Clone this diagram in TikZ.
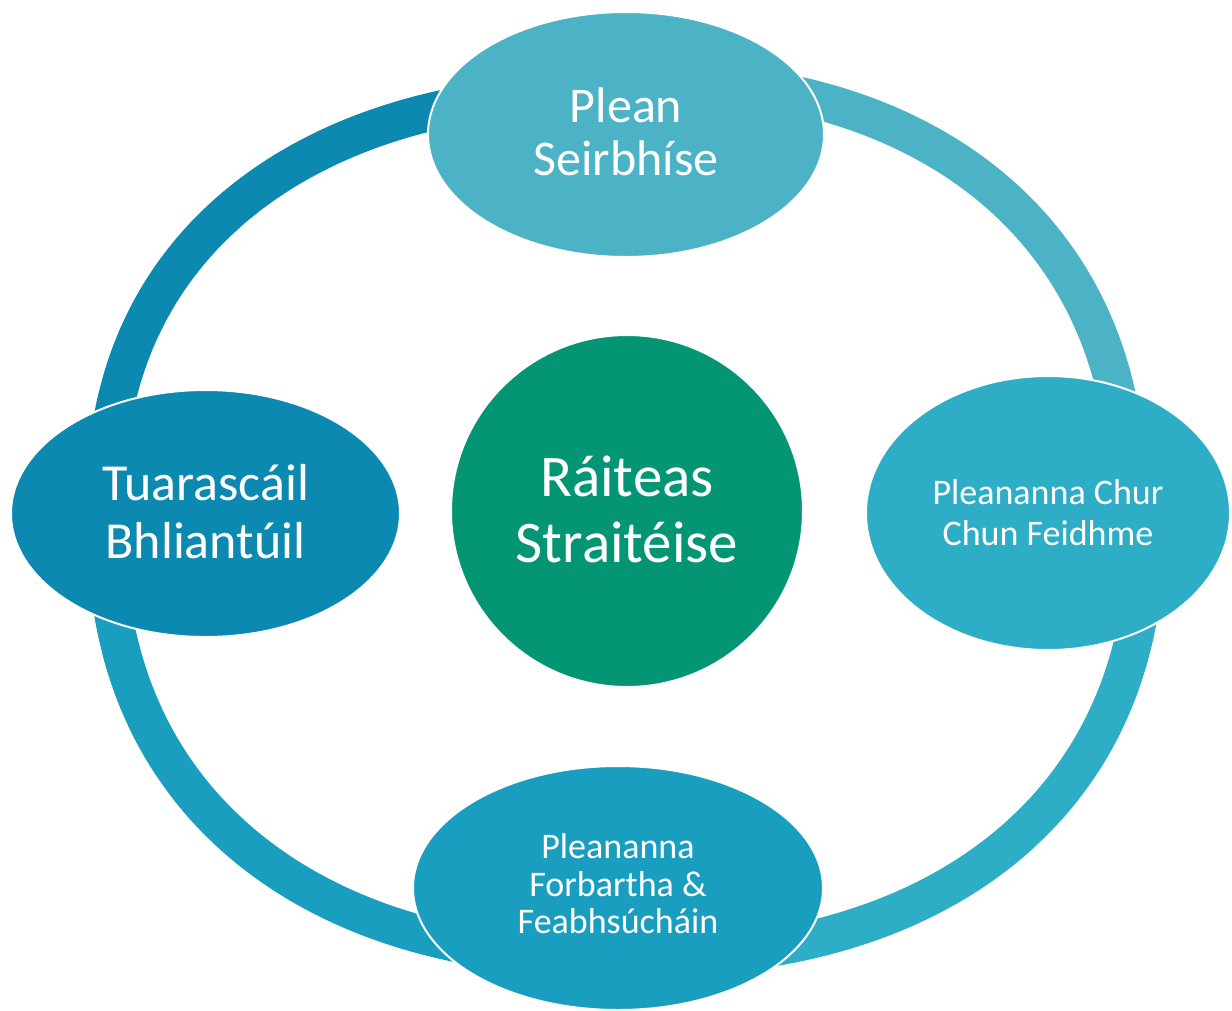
\documentclass[tikz,border=0pt]{standalone}
\usepackage{fontspec}
\setmainfont{Carlito}
\usetikzlibrary{shapes.geometric}
\definecolor{cLeft}{RGB}{11,137,176}
\definecolor{cTop}{RGB}{75,179,197}
\definecolor{cRight}{RGB}{46,173,199}
\definecolor{cBottom}{RGB}{26,158,192}
\definecolor{cCenter}{RGB}{4,149,116}
\begin{document}
\begin{tikzpicture}[x=1pt,y=-1pt,
  ring/.style={line width=38pt},
  bubble/.style={ellipse, draw=white, line width=2pt, inner sep=0pt},
  caption/.style={text=white, inner sep=0pt, align=center},
  ]
\useasboundingbox (0,0) rectangle (1232,1010);
% ring segments (drawn beneath the bubbles)
\draw[ring, cLeft] plot[domain=1:89, samples=120]
  ({626-521*pow(cos(\x),0.8696)}, {515-423*pow(sin(\x),0.8696)});
\draw[ring, cTop] plot[domain=1:89, samples=120]
  ({626+502*pow(cos(\x),0.8696)}, {515-436*pow(sin(\x),0.8696)});
\draw[ring, cRight] plot[domain=1:89, samples=120]
  ({626+520*pow(cos(\x),0.8696)}, {515+443*pow(sin(\x),0.8696)});
\draw[ring, cBottom] plot[domain=1:89, samples=120]
  ({626-520*pow(cos(\x),0.8696)}, {515+443*pow(sin(\x),0.8696)});
% bubbles
\node[bubble, fill=cTop, minimum width=396pt, minimum height=245pt] (plan) at (626,134.5) {};
\node[bubble, fill=cLeft, minimum width=389pt, minimum height=247pt] (tuar) at (205.5,513.5) {};
\node[bubble, fill=cRight, minimum width=364pt, minimum height=274pt] (chur) at (1048,513) {};
\node[bubble, fill=cBottom, minimum width=410pt, minimum height=244pt] (forb) at (618,888) {};
\node[bubble, circle, fill=cCenter, minimum size=352pt] (rait) at (627,511) {};
% captions
\node[caption, font=\fontsize{50}{53}\selectfont] (planT) at ([yshift=3pt]plan.center) {Plean\\Seirbhíse};
\node[caption, font=\fontsize{52}{58.6}\selectfont] (tuarT) at ([yshift=2pt]tuar.center) {Tuarascáil\\Bhliantúil};
\node[caption, font=\fontsize{36}{41}\selectfont] (churT) at (chur.center) {Pleananna Chur\\Chun Feidhme};
\node[caption, font=\fontsize{36}{37.5}\selectfont] (forbT) at ([yshift=4pt]forb.center) {Pleananna\\Forbartha \&\\Feabhsúcháin};
\node[caption, font=\fontsize{59}{66}\selectfont] (raitT) at ([yshift=1.5pt]rait.center) {Ráiteas\\Straitéise};
\end{tikzpicture}
\end{document}
